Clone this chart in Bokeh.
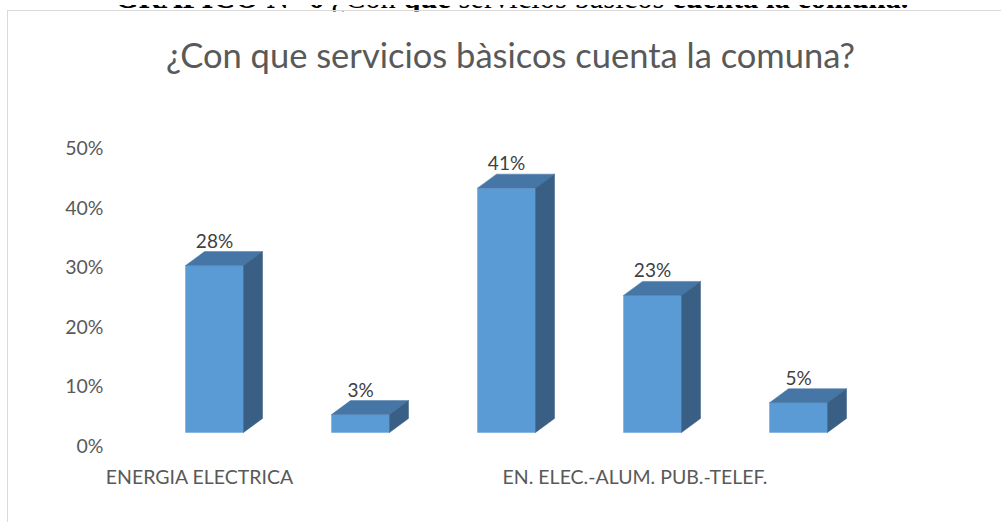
from bokeh.plotting import figure
from bokeh.models import (Range1d, FixedTicker, NumeralTickFormatter,
                          Label, ColumnDataSource, Div)
from bokeh.layouts import column
from bokeh.core.properties import value
from bokeh.embed import file_html
from bokeh.resources import INLINE

# ---------------- data ----------------
categories = ["ENERGIA ELECTRICA", "(2)", "EN. ELEC.-ALUM. PUB.-TELEF.", "(4)", "(5)"]
values = [0.28, 0.03, 0.41, 0.23, 0.05]
shown_labels = ["ENERGIA ELECTRICA", "EN. ELEC.-ALUM. PUB.-TELEF."]
y_ticks = [0.0, 0.1, 0.2, 0.3, 0.4, 0.5]
chart_title = "¿Con que servicios bàsicos cuenta la comuna?"
# document caption (bold flag per run, as typed in the source document)
caption_runs = [("GRAFICO N° 6 ", True), ("¿Con ", False), ("que ", True),
                ("servicios básicos ", False), ("cuenta la comuna.", True)]

# ---------------- layout constants (page pixels) ----------------
OX, OY = 8, 11                               # canvas origin on the page (inside border)
CW, CH = 1000, 520                           # canvas size (runs past the window; clipped)
FL, FR, FT, FB = 110, 988, 11, 460           # frame edges on the page
X0, DXC = 214, 146                           # first bar centre, category pitch
Y_TICK0, Y_BAR0, PX_PER_UNIT = 445, 432, 596 # 0% label row, bar base row, px per 100%
BAR_W = 58 / DXC                             # front width in category units
DEPTH_X = 19 / DXC                           # 3-D depth (x) in category units
DEPTH_Y = 14 / PX_PER_UNIT                   # 3-D depth (y) in value units
LABEL_POS = [-0.10, 2.88]                    # category label anchors (Excel 3-D offset)

FRONT, TOP, SIDE = "#5B9BD5", "#4676A5", "#395F85"
TXT = "#595959"
FONT = "Lato"


def px_x(px):
    return (px - X0) / DXC


def px_y(py):
    return (Y_TICK0 - py) / PX_PER_UNIT


x_range = Range1d(px_x(FL), px_x(FR))
y_range = Range1d(px_y(FB), px_y(FT))

p = figure(width=CW, height=CH, x_range=x_range, y_range=y_range,
           output_backend="svg", toolbar_location=None,
           min_border_left=FL - OX, min_border_right=OX + CW - FR,
           min_border_top=FT - OY, min_border_bottom=OY + CH - FB,
           styles={"margin-left": "7px", "margin-top": "-10px",
                   "border-left": "1px solid #D9D9D9",
                   "border-top": "1px solid #D9D9D9"})
p.extra_y_ranges = {"bars": Range1d((Y_BAR0 - FB) / PX_PER_UNIT, (Y_BAR0 - FT) / PX_PER_UNIT)}

p.outline_line_color = None
p.xgrid.visible = False
p.ygrid.visible = False
p.background_fill_color = "white"
p.border_fill_color = "white"

# ---------------- bars (3-D look) ----------------
idx = list(range(len(values)))
left = [i - BAR_W / 2 for i in idx]
right = [i + BAR_W / 2 for i in idx]

front = ColumnDataSource(dict(left=left, right=right, top=values, bottom=[0] * len(values)))
p.quad(left="left", right="right", top="top", bottom="bottom", source=front,
       fill_color=FRONT, line_color="#6FA8DC", line_width=0.6, y_range_name="bars")

top_xs = [[l, r, r + DEPTH_X, l + DEPTH_X] for l, r in zip(left, right)]
top_ys = [[v, v, v + DEPTH_Y, v + DEPTH_Y] for v in values]
p.patches(top_xs, top_ys, fill_color=TOP, line_color=TOP, line_width=0.5, y_range_name="bars")

side_xs = [[r, r + DEPTH_X, r + DEPTH_X, r] for r in right]
side_ys = [[0, DEPTH_Y, v + DEPTH_Y, v] for v in values]
p.patches(side_xs, side_ys, fill_color=SIDE, line_color=SIDE, line_width=0.5, y_range_name="bars")

# data labels
lab = ColumnDataSource(dict(x=idx, y=[v + DEPTH_Y for v in values],
                            t=[f"{round(v * 100)}%" for v in values]))
p.text(x="x", y="y", text="t", source=lab, y_range_name="bars",
       text_align="center", text_baseline="bottom",
       text_font=value(FONT), text_font_size="19px", text_color="#404040")

# ---------------- axes ----------------
p.yaxis.ticker = FixedTicker(ticks=y_ticks)
p.yaxis.formatter = NumeralTickFormatter(format="0%")
p.xaxis.ticker = FixedTicker(ticks=LABEL_POS)
p.xaxis.major_label_overrides = {pos: name for pos, name in zip(LABEL_POS, shown_labels)}
for ax in (p.xaxis, p.yaxis):
    ax.axis_line_color = None
    ax.major_tick_line_color = None
    ax.minor_tick_line_color = None
    ax.major_tick_out = 0
    ax.major_tick_in = 0
    ax.major_label_text_font = FONT
    ax.major_label_text_font_size = "19.5px"
    ax.major_label_text_color = TXT
p.yaxis.major_label_standoff = 7
p.xaxis.major_label_standoff = 4

# ---------------- chart title (inside the frame) ----------------
p.add_layout(Label(x=px_x(510), y=px_y(54), text=chart_title,
                   text_align="center", text_baseline="alphabetic",
                   text_font=FONT, text_font_size="34.5px", text_color=TXT))

# ---------------- document caption, cut off at the top as in the scan ----------------
runs_html = "".join(
    f'<span style="font-weight:{"bold" if b else "normal"}">{t}</span>' for t, b in caption_runs)
caption = Div(
    text=(f'<div style="white-space:nowrap; position:relative; top:-22px; padding-left:110px; '
          f'font-family:\'Liberation Serif\'; font-size:30.5px; '
          f'line-height:30px; color:black;">{runs_html}</div>'),
    width=995, height=10, styles={"overflow": "hidden"})

layout = column(caption, p, spacing=0, width=1001, height=522,
                styles={"overflow": "hidden"})
open("out.html", "w").write(file_html(layout, INLINE))
